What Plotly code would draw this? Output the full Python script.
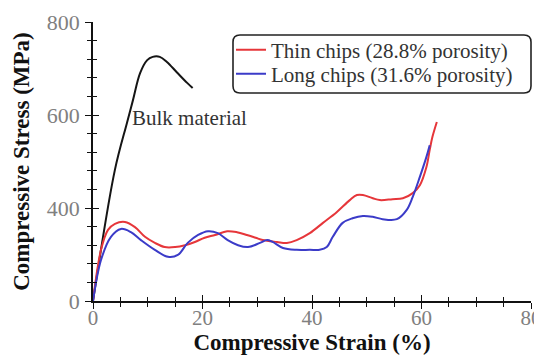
import plotly.graph_objects as go

# ---- data ----
strain_bulk = [0, 4.0, 6.2, 7.3, 8.6, 9.9, 10.9, 12.2, 13.5, 15.3, 17.2, 18.2]
stress_bulk = [200, 482, 583, 632, 690, 718, 725, 725, 714, 692, 669, 658]

strain_thin = [0, 1.46, 2.74, 4.01, 5.84, 7.66, 9.49, 11.3, 13.1, 15.0, 16.8, 18.6, 20.4,
               22.3, 24.5, 26.3, 28.1, 29.7, 31.0, 33.6, 35.4, 37.2, 39.6, 42.0, 44.5,
               46.9, 48.2, 49.3, 51.1, 52.4, 54.7, 56.6, 58.4, 59.7, 60.9, 61.5, 62.0, 62.8]
stress_thin = [200, 310, 353, 366, 370, 359, 338, 325, 316, 316, 320, 327, 336,
               342, 350, 348, 342, 336, 331, 327, 325, 331, 346, 368, 391,
               417, 428, 428, 421, 417, 419, 421, 432, 449, 488, 525, 553, 585]

strain_long = [0, 1.46, 3.28, 5.11, 6.93, 8.76, 11.3, 13.7, 15.5, 17.3, 19.2, 21.0,
               22.8, 24.6, 26.5, 28.3, 30.5, 31.8, 32.8, 34.7, 37.2, 39.6, 41.4, 42.7,
               43.8, 45.6, 47.4, 49.3, 51.1, 52.9, 55.5, 57.3, 58.4, 59.7, 60.9, 61.5]
stress_long = [200, 288, 338, 355, 348, 331, 310, 295, 299, 325, 342, 350,
               346, 331, 320, 316, 325, 331, 327, 314, 310, 310, 310, 316,
               338, 368, 378, 383, 381, 376, 376, 396, 424, 467, 510, 535]

series_names = ["Thin chips (28.8% porosity)", "Long chips (31.6% porosity)"]
x_tickvals = [0, 20, 40, 60, 80]
y_tickvals = [200, 400, 600, 800]
y_ticktext = ["0", "400", "600", "800"]

# page body has an 8px default margin, so the figure is sized to fit the window
OFF = 8
W, H = 542 - OFF, 356 - OFF
ML, MR, MT, MB = 93 - OFF, 11, 22 - OFF, 55
PW, PH = W - ML - MR, H - MT - MB

FONT = "Liberation Serif, Times New Roman, Tinos, DejaVu Serif, serif"


def px_x(p):
    return (p - OFF - ML) / PW


def px_y(p):
    return (H + OFF - MB - p) / PH


fig = go.Figure()
fig.add_trace(go.Scatter(x=strain_bulk, y=stress_bulk, mode="lines", showlegend=False,
                         line=dict(color="#151515", width=2, shape="spline"), hoverinfo="skip"))
fig.add_trace(go.Scatter(x=strain_thin, y=stress_thin, mode="lines", name=series_names[0],
                         legend="legend",
                         line=dict(color="#e6363a", width=2, shape="spline")))
fig.add_trace(go.Scatter(x=strain_long, y=stress_long, mode="lines", name=series_names[1],
                         legend="legend2",
                         line=dict(color="#3b3bc8", width=2, shape="spline")))
# helper trace for the inner-tick axes
fig.add_trace(go.Scatter(x=[None], y=[None], xaxis="x2", yaxis="y2", showlegend=False,
                         hoverinfo="skip"))

axis_common = dict(showgrid=False, zeroline=False, linecolor="#111", linewidth=1.6,
                   tickcolor="#111", tickwidth=1.4, automargin=False)

legend_common = dict(xanchor="left", yanchor="middle", bgcolor="rgba(0,0,0,0)", borderwidth=0,
                     font=dict(size=21, color="#333", family=FONT))

fig.update_layout(
    width=W, height=H,
    margin=dict(l=ML, r=MR, t=MT, b=MB),
    plot_bgcolor="white", paper_bgcolor="white",
    font=dict(family=FONT, size=21, color="#333"),
    xaxis=dict(range=[0, 80], tickvals=x_tickvals, ticks="outside", ticklen=6,
               minor=dict(dtick=5, ticks="outside", ticklen=4, tickcolor="#111", tickwidth=1.2),
               showline=True, tickfont=dict(size=21, color="#808080", family=FONT),
               ticklabelstandoff=-9,
               title=dict(text="Compressive Strain (%)", standoff=0,
                          font=dict(size=23, color="#111", family=FONT, weight="bold")),
               **axis_common),
    yaxis=dict(range=[200, 800], tickvals=y_tickvals, ticktext=y_ticktext, ticks="outside",
               ticklen=6, minor=dict(dtick=40, ticks="outside", ticklen=4, tickcolor="#111", tickwidth=1.2),
               showline=True, tickfont=dict(size=22, color="#808080", family=FONT),
               ticklabelstandoff=1,
               title=dict(text="Compressive Stress (MPa)", standoff=11,
                          font=dict(size=23, color="#111", family=FONT, weight="bold")),
               **axis_common),
    xaxis2=dict(range=[0, 80], overlaying="x", tickvals=x_tickvals, ticks="inside", ticklen=6,
                minor=dict(dtick=5, ticks="inside", ticklen=4, tickcolor="#111", tickwidth=1.2),
                showticklabels=False, showline=False, showgrid=False, zeroline=False,
                tickcolor="#111", tickwidth=1.4, automargin=False),
    yaxis2=dict(range=[200, 800], overlaying="y", tickvals=y_tickvals, ticks="inside", ticklen=6,
                minor=dict(dtick=40, ticks="inside", ticklen=4, tickcolor="#111", tickwidth=1.2),
                showticklabels=False, showline=False, showgrid=False, zeroline=False,
                tickcolor="#111", tickwidth=1.4, automargin=False),
    legend=dict(x=px_x(231), y=px_y(50), **legend_common),
    legend2=dict(x=px_x(231), y=px_y(74), **legend_common),
    showlegend=True,
)

fig.add_annotation(x=6.8, y=593, xref="x", yref="y", text="Bulk material", showarrow=False,
                   xanchor="left", yanchor="middle", font=dict(size=21, color="#333", family=FONT))

# rounded legend frame
x0, x1, y0, y1, r = 233, 531, 35, 93, 7
path = (f"M {px_x(x0 + r)},{px_y(y0)} L {px_x(x1 - r)},{px_y(y0)} "
        f"Q {px_x(x1)},{px_y(y0)} {px_x(x1)},{px_y(y0 + r)} "
        f"L {px_x(x1)},{px_y(y1 - r)} Q {px_x(x1)},{px_y(y1)} {px_x(x1 - r)},{px_y(y1)} "
        f"L {px_x(x0 + r)},{px_y(y1)} Q {px_x(x0)},{px_y(y1)} {px_x(x0)},{px_y(y1 - r)} "
        f"L {px_x(x0)},{px_y(y0 + r)} Q {px_x(x0)},{px_y(y0)} {px_x(x0 + r)},{px_y(y0)} Z")
fig.add_shape(type="path", path=path, xref="paper", yref="paper",
              line=dict(color="#222", width=1.6), fillcolor="rgba(0,0,0,0)", layer="above")

fig.write_html("out.html")
